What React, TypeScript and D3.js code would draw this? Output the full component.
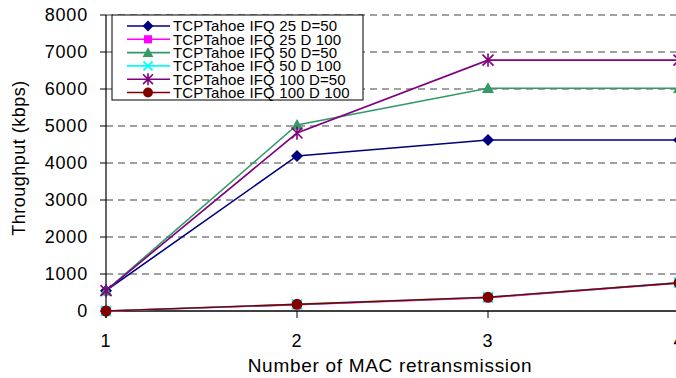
import React from "react";
import * as d3 from "d3";

const xValues = [1, 2, 3, 4];
const yTicks = [0, 1000, 2000, 3000, 4000, 5000, 6000, 7000, 8000];
const xTicks = [1, 2, 3, 4];

const seriesNames = [
  "TCPTahoe IFQ 25 D=50",
  "TCPTahoe IFQ 25 D 100",
  "TCPTahoe IFQ 50 D=50",
  "TCPTahoe IFQ 50 D 100",
  "TCPTahoe IFQ 100 D=50",
  "TCPTahoe IFQ 100 D 100",
];
const ifq25d50 = [550, 4190, 4620, 4620];
const ifq25d100 = [0, 170, 360, 760];
const ifq50d50 = [550, 5030, 6020, 6020];
const ifq50d100 = [0, 180, 370, 770];
const ifq100d50 = [550, 4810, 6780, 6780];
const ifq100d100 = [0, 180, 370, 760];

const seriesValues = [ifq25d50, ifq25d100, ifq50d50, ifq50d100, ifq100d50, ifq100d100];
const seriesColors = ["#000080", "#FF00FF", "#339966", "#00FFFF", "#800080", "#800000"];
const seriesMarkers = ["diamond", "square", "triangle", "x", "star", "circle"];
const drawOrder = [0, 2, 4, 1, 3, 5];

const W = 676;
const H = 378;
const left = 106;
const xEnd = 679;
const top = 15;
const bottom = 311;

function Marker({ type, x, y, color, s = 1 }: { type: string; x: number; y: number; color: string; s?: number }) {
  switch (type) {
    case "diamond": {
      const r = 6 * s;
      return <path d={`M${x},${y - r}L${x + r},${y}L${x},${y + r}L${x - r},${y}Z`} fill={color} />;
    }
    case "square": {
      const r = 4.5 * s;
      return <rect x={x - r} y={y - r} width={2 * r} height={2 * r} fill={color} />;
    }
    case "triangle": {
      const r = 6 * s;
      return <path d={`M${x},${y - r}L${x + r},${y + r * 0.8}L${x - r},${y + r * 0.8}Z`} fill={color} />;
    }
    case "x": {
      const r = 5 * s;
      return (
        <path d={`M${x - r},${y - r}L${x + r},${y + r}M${x - r},${y + r}L${x + r},${y - r}`} stroke={color} strokeWidth={2} />
      );
    }
    case "star": {
      const r = 5.5 * s;
      return (
        <path
          d={`M${x - r},${y - r}L${x + r},${y + r}M${x - r},${y + r}L${x + r},${y - r}M${x},${y - r * 1.2}L${x},${y + r * 1.2}`}
          stroke={color}
          strokeWidth={1.6}
        />
      );
    }
    default: {
      return <circle cx={x} cy={y} r={5.5 * s} fill={color} />;
    }
  }
}

export default function App() {
  const x = d3.scaleLinear().domain([1, 4]).range([left, xEnd]);
  const y = d3.scaleLinear().domain([0, 8000]).range([bottom, top]);
  const line = d3
    .line<number>()
    .x((_, i) => x(xValues[i]))
    .y((d) => y(d));

  const legX = 112;
  const legY = 15;
  const legW = 251;
  const legH = 85;
  const rowH = 13.3;

  return (
    <svg
      width={W}
      height={H}
      style={{ position: "absolute", left: 0, top: 0, background: "#fff" }}
      fontFamily="'Liberation Sans', Arial, sans-serif"
    >
      <rect width={W} height={H} fill="#fff" />
      {yTicks
        .filter((t) => t > 0)
        .map((t) => (
          <line key={t} x1={left} x2={W} y1={y(t)} y2={y(t)} stroke="#444" strokeWidth={1.2} strokeDasharray="7,5" />
        ))}
      <line x1={left} x2={left} y1={top} y2={bottom + 7} stroke="#000" strokeWidth={1.2} />
      <line x1={left} x2={W} y1={bottom} y2={bottom} stroke="#000" strokeWidth={1.5} />
      {yTicks.map((t) => (
        <g key={t}>
          <line x1={left - 6} x2={left} y1={y(t)} y2={y(t)} stroke="#000" strokeWidth={1} />
          <text x={88} y={y(t) + 6} textAnchor="end" fontSize={18} letterSpacing={0.8} fill="#000">
            {t}
          </text>
        </g>
      ))}
      {xTicks.map((t) => (
        <g key={t}>
          <line x1={x(t)} x2={x(t)} y1={bottom} y2={bottom + 7} stroke="#000" strokeWidth={1} />
          <text x={x(t)} y={347} textAnchor="middle" fontSize={18} letterSpacing={0.8} fill="#000">
            {t}
          </text>
        </g>
      ))}
      <text x={390} y={372} textAnchor="middle" fontSize={19} letterSpacing={0.7} fill="#000">
        Number of MAC retransmission
      </text>
      <text
        transform={`translate(25,158) rotate(-90)`}
        textAnchor="middle"
        fontSize={18}
        letterSpacing={0.5}
        fill="#000"
      >
        Throughput (kbps)
      </text>
      {drawOrder.map((i) => (
        <g key={i}>
          <path d={line(seriesValues[i]) || ""} fill="none" stroke={seriesColors[i]} strokeWidth={1.6} />
          {seriesValues[i].map((v, j) => (
            <Marker key={j} type={seriesMarkers[i]} x={x(xValues[j])} y={y(v)} color={seriesColors[i]} />
          ))}
        </g>
      ))}
      <rect x={legX} y={legY} width={legW} height={legH} fill="#fff" stroke="#000" strokeWidth={1} />
      {seriesNames.map((n, i) => {
        const cy = legY + 11 + i * rowH;
        return (
          <g key={n}>
            <line x1={127} x2={170} y1={cy} y2={cy} stroke={seriesColors[i]} strokeWidth={1.6} />
            <Marker type={seriesMarkers[i]} x={148} y={cy} color={seriesColors[i]} s={0.9} />
            <text x={173} y={cy + 5.3} fontSize={15} letterSpacing={0.15} fill="#000">
              {n}
            </text>
          </g>
        );
      })}
    </svg>
  );
}
